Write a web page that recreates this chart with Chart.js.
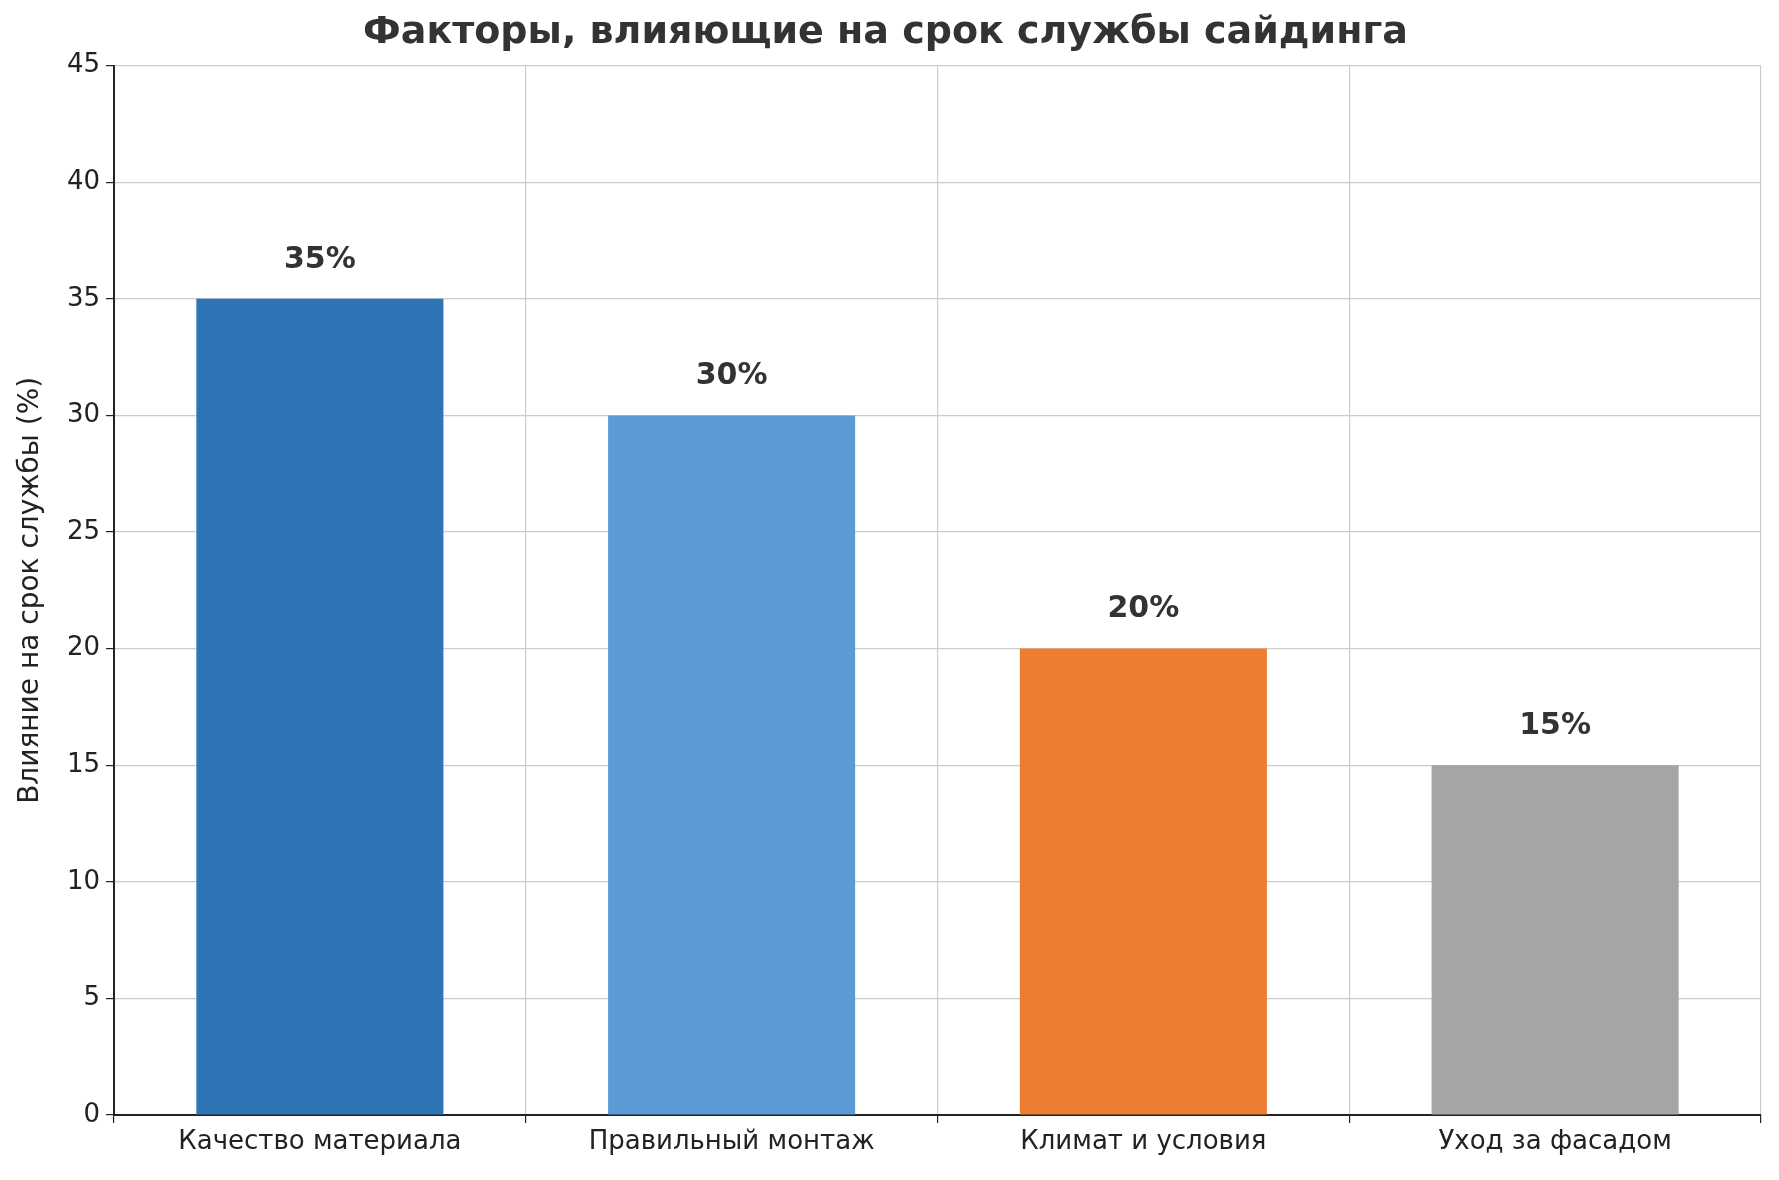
<!DOCTYPE html>
<html>
<head>
<meta charset="utf-8">
<script src="https://cdn.jsdelivr.net/npm/chart.js@4"></script>
<style>
  html, body { margin: 0; padding: 0; background: #fff; }
  #wrap { width: 1779px; height: 1180px; }
</style>
</head>
<body>
<div id="wrap"><canvas id="chart"></canvas></div>
<script>
// chart data
const categories = ['Качество материала', 'Правильный монтаж', 'Климат и условия', 'Уход за фасадом'];
const values = [35, 30, 20, 15];
const barColors = ['#2e75b6', '#5b9bd5', '#ed7d31', '#a5a5a5'];

const valueLabels = {
    id: 'valueLabels',
    afterDatasetsDraw(chart) {
        const ctx = chart.ctx;
        const meta = chart.getDatasetMeta(0);
        ctx.save();
        ctx.font = 'bold 30px "DejaVu Sans"';
        ctx.fillStyle = '#333333';
        ctx.textAlign = 'center';
        ctx.textBaseline = 'bottom';
        meta.data.forEach((bar, i) => {
            ctx.fillText(values[i] + '%', bar.x, bar.y - 24);
        });
        ctx.restore();
    }
};

Chart.defaults.font.family = '"DejaVu Sans"';
Chart.defaults.color = '#222';

new Chart(document.getElementById('chart'), {
    type: 'bar',
    data: {
        labels: categories,
        datasets: [{
            data: values,
            backgroundColor: barColors,
            categoryPercentage: 1.0,
            barPercentage: 0.6
        }]
    },
    options: {
        responsive: true,
        maintainAspectRatio: false,
        animation: false,
        layout: { padding: { top: 10, right: 18, bottom: 10, left: 10 } },
        plugins: {
            legend: { display: false },
            tooltip: { enabled: false },
            title: {
                display: true,
                text: 'Факторы, влияющие на срок службы сайдинга',
                font: { size: 38, weight: 'bold' },
                color: '#333333',
                padding: { top: 0, bottom: 10 }
            }
        },
        scales: {
            x: {
                grid: { color: '#cccccc', borderDash: [6, 4], tickLength: 8, tickColor: '#222' },
                border: { color: '#222', width: 2, dash: [] },
                ticks: { font: { size: 26 }, color: '#222', padding: 4 },
                afterFit(scale) { scale.height = 55; }
            },
            y: {
                min: 0,
                max: 45,
                grid: { color: '#cccccc', tickLength: 8, tickColor: '#222' },
                border: { color: '#222', width: 2 },
                ticks: { stepSize: 5, font: { size: 26 }, color: '#222', padding: 6 },
                title: { display: true, text: 'Влияние на срок службы (%)', font: { size: 28 }, color: '#222' },
                afterFit(scale) { scale.width = 104; }
            }
        }
    },
    plugins: [valueLabels, {
        id: 'dashGrid',
        beforeDraw(chart) {
            chart.options.scales.x.grid.borderDash = [6, 4];
        }
    }]
});
// dashed grid lines (v4 option)
const c = Chart.getChart('chart');
c.options.scales.x.border.dash = [];
c.options.scales.x.grid.dash = undefined;
c.options.scales.x.border = { color: '#222', width: 2 };
c.options.scales.y.border = { color: '#222', width: 2 };
c.options.scales.x.grid = { color: '#cccccc', tickLength: 8, tickColor: '#222' };
c.options.scales.y.grid = { color: '#cccccc', tickLength: 8, tickColor: '#222' };
c.options.scales.x.border.dash = [];
c.options.scales.x.grid.lineWidth = 1.2;
c.options.scales.y.grid.lineWidth = 1.2;
c.update();
</script>
</body>
</html>
